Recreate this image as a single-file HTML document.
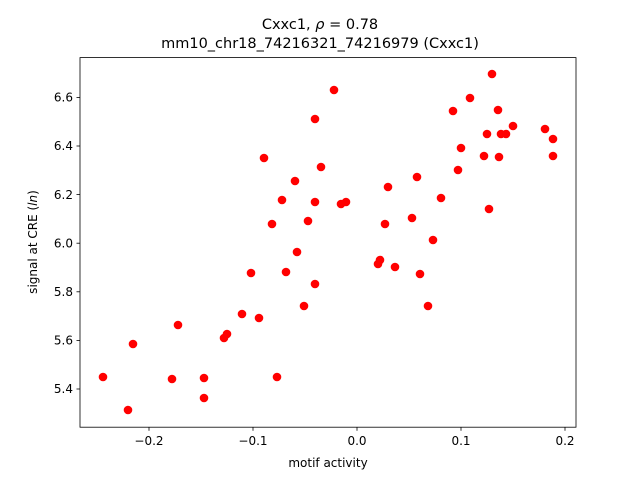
<!DOCTYPE html>
<html><head><meta charset="utf-8"><style>body{margin:0;background:#fff}</style></head><body>
<svg width="640" height="480" xmlns="http://www.w3.org/2000/svg" font-family="'DejaVu Sans', 'Liberation Sans', sans-serif">
<rect width="640" height="480" fill="#fff"/>
<text x="320" y="29" text-anchor="middle" font-size="14.5">Cxxc1, <tspan font-style="italic">ρ</tspan> = 0.78</text>
<text x="320" y="48" text-anchor="middle" font-size="14.5">mm10_chr18_74216321_74216979 (Cxxc1)</text>
<g fill="#ff0000">
<circle cx="103" cy="377" r="4.3"/><circle cx="128" cy="410" r="4.3"/><circle cx="133" cy="344" r="4.3"/><circle cx="172" cy="379" r="4.3"/><circle cx="178" cy="325" r="4.3"/><circle cx="204" cy="378" r="4.3"/><circle cx="204" cy="398" r="4.3"/><circle cx="224" cy="338" r="4.3"/><circle cx="227" cy="334" r="4.3"/><circle cx="242" cy="314" r="4.3"/><circle cx="251" cy="273" r="4.3"/><circle cx="259" cy="318" r="4.3"/><circle cx="264" cy="158" r="4.3"/><circle cx="272" cy="224" r="4.3"/><circle cx="277" cy="377" r="4.3"/><circle cx="282" cy="200" r="4.3"/><circle cx="286" cy="272" r="4.3"/><circle cx="295" cy="181" r="4.3"/><circle cx="297" cy="252" r="4.3"/><circle cx="304" cy="306" r="4.3"/><circle cx="308" cy="221" r="4.3"/><circle cx="315" cy="119" r="4.3"/><circle cx="315" cy="202" r="4.3"/><circle cx="315" cy="284" r="4.3"/><circle cx="321" cy="167" r="4.3"/><circle cx="334" cy="90" r="4.3"/><circle cx="341" cy="204" r="4.3"/><circle cx="346" cy="202" r="4.3"/><circle cx="378" cy="264" r="4.3"/><circle cx="380" cy="260" r="4.3"/><circle cx="385" cy="224" r="4.3"/><circle cx="388" cy="187" r="4.3"/><circle cx="395" cy="267" r="4.3"/><circle cx="412" cy="218" r="4.3"/><circle cx="417" cy="177" r="4.3"/><circle cx="420" cy="274" r="4.3"/><circle cx="428" cy="306" r="4.3"/><circle cx="433" cy="240" r="4.3"/><circle cx="441" cy="198" r="4.3"/><circle cx="453" cy="111" r="4.3"/><circle cx="458" cy="170" r="4.3"/><circle cx="461" cy="148" r="4.3"/><circle cx="470" cy="98" r="4.3"/><circle cx="484" cy="156" r="4.3"/><circle cx="487" cy="134" r="4.3"/><circle cx="489" cy="209" r="4.3"/><circle cx="492" cy="74" r="4.3"/><circle cx="498" cy="110" r="4.3"/><circle cx="499" cy="157" r="4.3"/><circle cx="501" cy="134" r="4.3"/><circle cx="506" cy="134" r="4.3"/><circle cx="513" cy="126" r="4.3"/><circle cx="545" cy="129" r="4.3"/><circle cx="553" cy="139" r="4.3"/><circle cx="553" cy="156" r="4.3"/>
</g>
<rect x="80" y="57.6" width="496" height="369.6" fill="none" stroke="#000" stroke-width="0.8"/>
<g stroke="#000" stroke-width="0.8">
<line x1="149" y1="427.2" x2="149" y2="430.7"/><line x1="253" y1="427.2" x2="253" y2="430.7"/><line x1="357" y1="427.2" x2="357" y2="430.7"/><line x1="461" y1="427.2" x2="461" y2="430.7"/><line x1="565" y1="427.2" x2="565" y2="430.7"/>
<line x1="76.5" y1="389" x2="80" y2="389"/><line x1="76.5" y1="340.4" x2="80" y2="340.4"/><line x1="76.5" y1="291.8" x2="80" y2="291.8"/><line x1="76.5" y1="243.2" x2="80" y2="243.2"/><line x1="76.5" y1="194.6" x2="80" y2="194.6"/><line x1="76.5" y1="146" x2="80" y2="146"/><line x1="76.5" y1="97.4" x2="80" y2="97.4"/>
</g>
<g font-size="12" text-anchor="middle">
<text x="149" y="445">−0.2</text><text x="253" y="445">−0.1</text><text x="357" y="445">0.0</text><text x="461" y="445">0.1</text><text x="565" y="445">0.2</text>
<text x="328" y="467">motif activity</text>
</g>
<g font-size="12" text-anchor="end">
<text x="73" y="393">5.4</text><text x="73" y="344.5">5.6</text><text x="73" y="296">5.8</text><text x="73" y="247.5">6.0</text><text x="73" y="199">6.2</text><text x="73" y="150">6.4</text><text x="73" y="101.5">6.6</text>
</g>
<text transform="translate(37,242) rotate(-90)" text-anchor="middle" font-size="12">signal at CRE (<tspan font-style="italic">ln</tspan>)</text>
</svg>
</body></html>
